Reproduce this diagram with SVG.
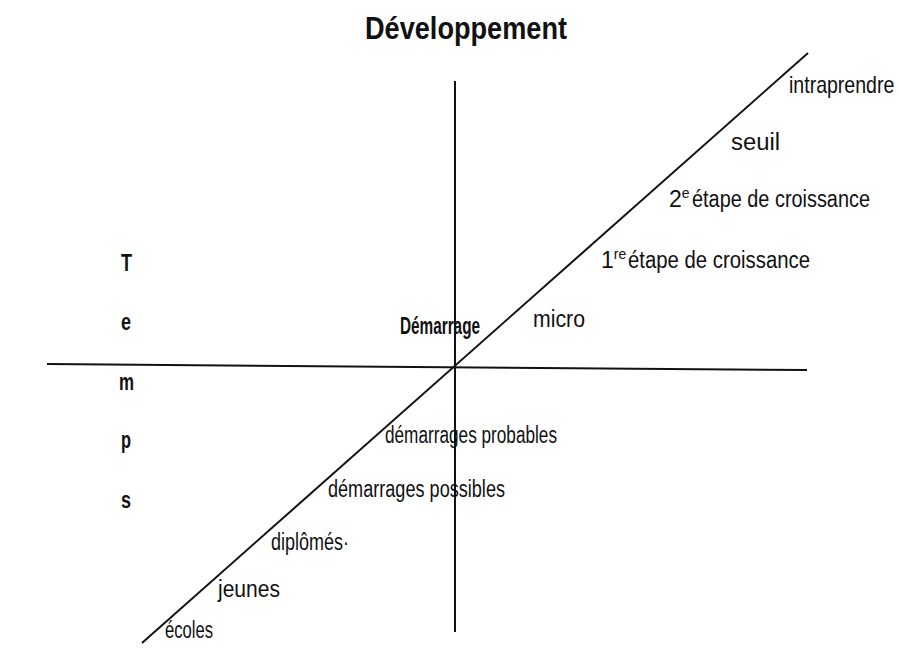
<svg xmlns="http://www.w3.org/2000/svg" width="901" height="650" viewBox="0 0 901 650">
<style>
.lbl{font-family:"Liberation Sans",Arial,sans-serif;font-size:23px;fill:#111}
.b{font-weight:bold}
.ttl{font-size:31px}
.tp{font-size:23px}
.dm{font-size:23px}
.sup{font-size:14px}
.ax{stroke:#111;stroke-width:2;fill:none;stroke-linecap:butt}
</style>
<rect width="901" height="650" fill="#fff"/>
<g id="connectors">
<line class="ax" x1="455" y1="81" x2="455" y2="632"/>
<line class="ax" x1="47" y1="364" x2="807" y2="370"/>
<line class="ax" x1="142" y1="643" x2="808" y2="53" stroke-width="1.8"/>
</g>
<g id="title"><text class="lbl b ttl" x="365" y="39" textLength="202" lengthAdjust="spacingAndGlyphs">Développement</text></g>
<g id="temps">
<text class="lbl b tp" x="121" y="271" textLength="11" lengthAdjust="spacingAndGlyphs">T</text>
<text class="lbl b tp" x="121" y="330" textLength="10" lengthAdjust="spacingAndGlyphs">e</text>
<text class="lbl b tp" x="119" y="390" textLength="15" lengthAdjust="spacingAndGlyphs">m</text>
<text class="lbl b tp" x="121" y="448" textLength="10" lengthAdjust="spacingAndGlyphs">p</text>
<text class="lbl b tp" x="121" y="508" textLength="10" lengthAdjust="spacingAndGlyphs">s</text>
</g>
<g id="intraprendre"><text class="lbl" transform="translate(789 93) scale(0.85 1)">intraprendre</text></g>
<g id="seuil"><text class="lbl" x="731" y="150" textLength="49" lengthAdjust="spacingAndGlyphs">seuil</text></g>
<g id="etape2"><text class="lbl" x="669" y="207">2<tspan class="sup" dy="-9">e</tspan><tspan dy="9" x="692" textLength="178" lengthAdjust="spacingAndGlyphs">étape de croissance</tspan></text></g>
<g id="etape1"><text class="lbl" x="601" y="268">1<tspan class="sup" dy="-9">re</tspan><tspan dy="9" x="628" textLength="182" lengthAdjust="spacingAndGlyphs">étape de croissance</tspan></text></g>
<g id="micro"><text class="lbl" x="533" y="327" textLength="52" lengthAdjust="spacingAndGlyphs">micro</text></g>
<g id="demarrage"><text class="lbl b dm" x="400" y="334" textLength="80" lengthAdjust="spacingAndGlyphs">Démarrage</text></g>
<g id="probables"><text class="lbl" x="385" y="443" textLength="172" lengthAdjust="spacingAndGlyphs">démarrages probables</text></g>
<g id="possibles"><text class="lbl" x="328" y="497" textLength="177" lengthAdjust="spacingAndGlyphs">démarrages possibles</text></g>
<g id="diplomes"><text class="lbl" x="271" y="550" textLength="78" lengthAdjust="spacingAndGlyphs">diplômés·</text></g>
<g id="jeunes"><text class="lbl" x="218" y="597" textLength="62" lengthAdjust="spacingAndGlyphs">jeunes</text></g>
<g id="ecoles"><text class="lbl" x="165" y="638" textLength="48" lengthAdjust="spacingAndGlyphs">écoles</text></g>
</svg>
